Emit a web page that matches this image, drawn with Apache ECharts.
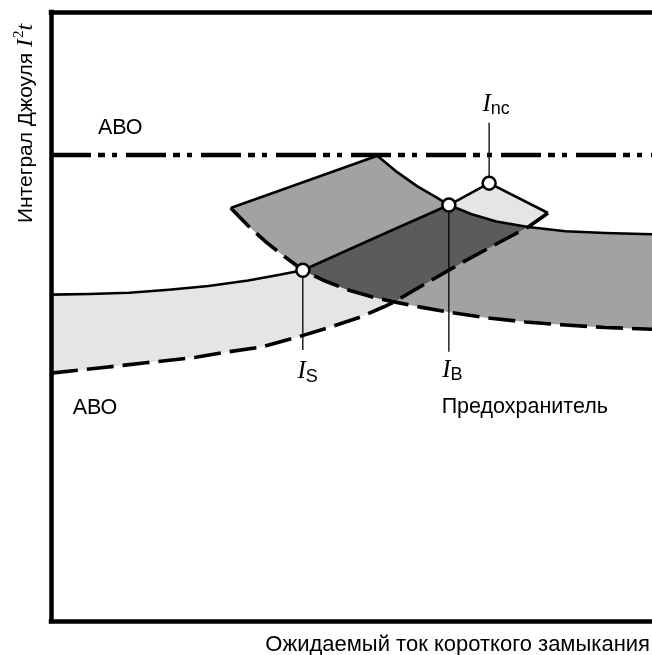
<!DOCTYPE html>
<html><head><meta charset="utf-8">
<script src="https://cdn.jsdelivr.net/npm/echarts@6/dist/echarts.min.js"></script>
<style>html,body{margin:0;padding:0;background:#fff}#c{width:652px;height:655px}</style>
</head><body><div id="c"></div>
<script>
// Units: x = relative (log) prospective short-circuit current 0..100,
//        y = relative Joule integral I²t 0..100
const breakerUpper = [[0,53.6],[6.4,53.7],[13.0,53.9],[19.6,54.4],[26.2,55.0],[32.8,55.9],[37.8,56.8],[41.9,57.6],[54.3,63.1],[66.2,68.3],[72.9,71.9]];
const breakerLower = [[0,40.7],[7.6,41.5],[15.8,42.4],[24.1,43.3],[29.5,44.2],[35.0,45.0],[40.6,46.5],[46.0,48.1],[51.5,49.9],[55.4,51.6],[57.1,52.4],[62.5,55.5],[68.3,58.8],[74.1,61.9],[79.4,64.7],[82.7,67.0]];
const fuseUpper = [[54.3,76.4],[57.6,73.7],[60.9,71.4],[64.2,69.5],[66.2,68.3],[70.0,66.8],[74.1,65.6],[79.4,64.7],[85.6,64.0],[92.2,63.7],[100,63.5]];
const fuseLower = [[29.9,67.8],[32.8,64.9],[35.8,62.2],[38.9,59.8],[41.9,57.6],[45.2,56.0],[49.3,54.4],[53.5,53.2],[57.1,52.4],[61.7,51.5],[66.2,50.7],[72.4,49.8],[79.0,49.1],[85.6,48.6],[92.2,48.2],[100,47.9]];
const breakerLimit = 76.5;
const pointIS = [41.9,57.6];
const pointIB = [66.2,68.3];
const pointInc = [72.9,71.9];
const crossLow = [57.1,52.4];
const crossHigh = [79.4,64.7];
const leaderEnds = [44.5, 44.2, 81.8];   // y where the thin leader lines end (IS, IB, Inc)
const textLabels = [
  {text:'АВО', pos:[7.8,81.0]},
  {text:'АВО', pos:[3.6,35.0]},
  {text:'Предохранитель', pos:[65.0,35.1]}
];
const currentLabels = [
  {sub:'S', pos:[41.0,40.9]},
  {sub:'B', pos:[65.1,41.2]},
  {sub:'nc', pos:[71.8,84.9]}
];
const xTitle = 'Ожидаемый ток короткого замыкания';
const yTitle = 'Интеграл Джоуля ';

function idx(arr, p){ return arr.findIndex(q => q[0]===p[0] && q[1]===p[1]); }
function seg(arr, a, b){ const i = idx(arr,a), j = idx(arr,b); return i<=j ? arr.slice(i,j+1) : arr.slice(j,i+1).reverse(); }

const breakerBand = breakerUpper.concat(breakerLower.slice().reverse());
const fuseBand = fuseUpper.concat(fuseLower.slice().reverse());
const overlap = seg(breakerUpper, pointIS, pointIB)
  .concat(seg(fuseUpper, pointIB, crossHigh).slice(1))
  .concat(seg(breakerLower, crossHigh, crossLow).slice(1))
  .concat(seg(fuseLower, crossLow, pointIS).slice(1, -1));

const chart = echarts.init(document.getElementById('c'), null, {renderer:'canvas'});

function poly(name, pts, color, z){
  return {type:'custom', name, z, silent:true, clip:true, data:[[0,0]],
    renderItem:(params, api)=>({type:'polygon', shape:{points: pts.map(p=>api.coord(p))}, style:{fill:color}})};
}
function line(name, pts, width, type, z){
  return {type:'line', name, z, data:pts, showSymbol:false, symbol:'none', silent:true,
    lineStyle:{color:'#000', width, type, cap:'butt', join:'round'}};
}
const axisLine = {show:true, lineStyle:{color:'#000', width:4.5, cap:'square'}};
const hidden = {axisTick:{show:false}, axisLabel:{show:false}, splitLine:{show:false}};

const ctx = document.createElement('canvas').getContext('2d');
function measure(t, font){ ctx.font = font; return ctx.measureText(t).width; }
const F = '"Liberation Sans", Arial, sans-serif';
const S = '"Liberation Serif", "Times New Roman", serif';
const yW = measure(yTitle, '21px ' + F);
const iW = measure('I', 'italic 24px ' + S);
const twoW = measure('2', '15px ' + S);
const iLabW = measure('I', 'italic 25px ' + S);

chart.setOption({
  animation:false,
  grid:{left:51, right:-5, top:12, bottom:34, show:false},
  xAxis:[
    Object.assign({type:'value', min:0, max:100, position:'bottom', z:10, axisLine}, hidden),
    Object.assign({type:'value', min:0, max:100, position:'top', z:10, axisLine}, hidden)
  ],
  yAxis:Object.assign({type:'value', min:0, max:100, position:'left', z:10, axisLine}, hidden),
  series:[
    poly('АВО', breakerBand, '#e5e5e5', 1),
    poly('Предохранитель', fuseBand, '#a2a2a2', 2),
    poly('overlap', overlap, '#5b5b5b', 3),
    line('breakerUpper', breakerUpper, 2.6, 'solid', 5),
    line('breakerCap', [pointInc, breakerLower[breakerLower.length-1]], 2.6, 'solid', 5),
    line('breakerLower', breakerLower, 3.6, [27,9], 5),
    line('fuseUpper', fuseUpper, 2.6, 'solid', 5),
    line('fuseCap', [fuseLower[0], fuseUpper[0]], 2.6, 'solid', 5),
    line('fuseLower', fuseLower, 3.6, [27,9], 5),
    line('limit', [[0,breakerLimit],[100,breakerLimit]], 4.5, [40,7,7,7,5,9], 6),
    line('leadIS', [pointIS, [pointIS[0], leaderEnds[0]]], 1.3, 'solid', 6),
    line('leadIB', [pointIB, [pointIB[0], leaderEnds[1]]], 1.3, 'solid', 6),
    line('leadInc', [pointInc, [pointInc[0], leaderEnds[2]]], 1.3, 'solid', 6),
    {type:'scatter', z:8, silent:true, data:[pointIS, pointIB, pointInc], symbol:'circle', symbolSize:13,
      itemStyle:{color:'#fff', borderColor:'#000', borderWidth:2.5, opacity:1}},
    {type:'custom', z:9, silent:true, clip:false, data:textLabels.map((d,i)=>[d.pos[0], d.pos[1], i]),
      renderItem:(params, api)=>{
        const p = api.coord([api.value(0), api.value(1)]);
        const d = textLabels[api.value(2)];
        return {type:'text', x:p[0], y:p[1], style:{text:d.text, fill:'#000', font:'21.5px ' + F, align:'left', verticalAlign:'middle'}};
      }},
    {type:'custom', z:9, silent:true, clip:false, data:currentLabels.map((d,i)=>[d.pos[0], d.pos[1], i]),
      renderItem:(params, api)=>{
        const p = api.coord([api.value(0), api.value(1)]);
        const d = currentLabels[api.value(2)];
        return {type:'group', x:p[0], y:p[1], children:[
          {type:'text', x:0, y:0, style:{text:'I', fill:'#000', font:'italic 25px ' + S, align:'left', verticalAlign:'middle'}},
          {type:'text', x:iLabW, y:5, style:{text:d.sub, fill:'#000', font:'18px ' + F, align:'left', verticalAlign:'middle'}}
        ]};
      }}
  ],
  graphic:[
    {type:'text', x:650, y:645, silent:true, style:{text:xTitle, fill:'#000', font:'22px ' + F, align:'right', verticalAlign:'middle'}},
    {type:'group', x:26, y:223, rotation:Math.PI/2, silent:true, children:[
      {type:'text', x:0, y:0, style:{text:yTitle, fill:'#000', font:'21px ' + F, align:'left', verticalAlign:'middle'}},
      {type:'text', x:yW, y:0, style:{text:'I', fill:'#000', font:'italic 24px ' + S, align:'left', verticalAlign:'middle'}},
      {type:'text', x:yW+iW+1, y:-7, style:{text:'2', fill:'#000', font:'15px ' + S, align:'left', verticalAlign:'middle'}},
      {type:'text', x:yW+iW+twoW+1, y:0, style:{text:'t', fill:'#000', font:'italic 24px ' + S, align:'left', verticalAlign:'middle'}}
    ]}
  ]
});
</script></body></html>
